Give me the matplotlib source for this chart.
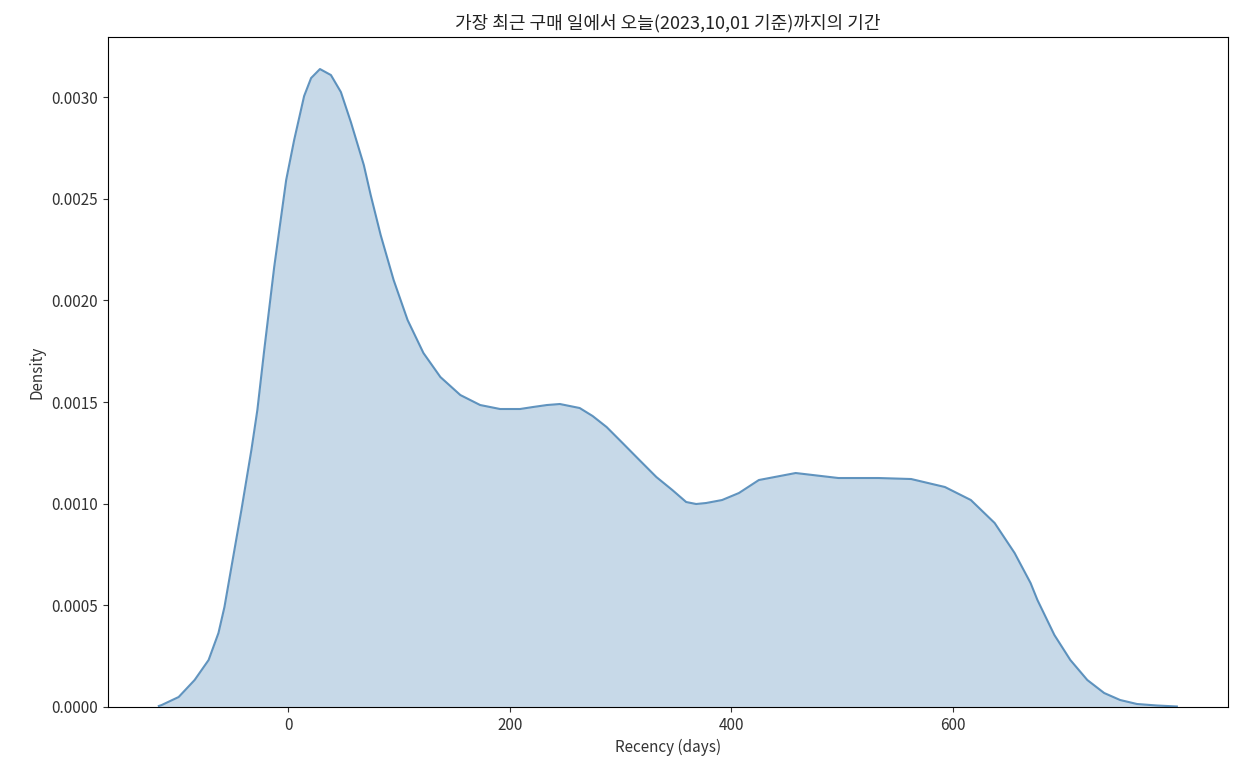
import matplotlib
matplotlib.use("Agg")
import matplotlib.pyplot as plt

plt.rcParams['font.family'] = ['Noto Sans CJK KR', 'DejaVu Sans']

# KDE curve (Recency in days, density)
recency_days = [-116.7, -114.1, -98.8, -84.4, -71.8, -62.9, -57.5, -51.2, -42.2, -33.2,
                -27.8, -21.6, -12.6, -1.8, 5.4, 14.4, 20.7, 28.7, 38.6, 47.6,
                56.6, 68.3, 74.5, 83.5, 95.2, 107.8, 122.1, 137.4, 155.4, 173.3,
                191.3, 209.2, 220.9, 233.5, 245.2, 263.1, 274.8, 287.4, 301.8, 317.0,
                332.3, 346.7, 359.2, 368.2, 377.2, 391.6, 406.8, 424.8, 458.0, 496.6,
                532.6, 562.2, 592.7, 616.1, 637.6, 655.6, 670.0, 676.2, 691.5, 705.9,
                721.2, 736.4, 750.8, 766.0, 784.0, 802.0]
density = [0.0000049, 0.0000098, 0.0000492, 0.0001328, 0.0002311, 0.0003639, 0.0004918,
           0.0006885, 0.0009688, 0.0012639, 0.0014606, 0.0017557, 0.0021639, 0.0025918,
           0.0027885, 0.0030049, 0.0030934, 0.0031377, 0.0031082, 0.0030246, 0.0028770,
           0.0026656, 0.0025180, 0.0023213, 0.0021000, 0.0019033, 0.0017410, 0.0016229,
           0.0015344, 0.0014852, 0.0014656, 0.0014656, 0.0014754, 0.0014852, 0.0014902,
           0.0014705, 0.0014311, 0.0013770, 0.0012984, 0.0012147, 0.0011311, 0.0010672,
           0.0010082, 0.0009984, 0.0010033, 0.0010180, 0.0010525, 0.0011164, 0.0011508,
           0.0011262, 0.0011262, 0.0011213, 0.0010820, 0.0010180, 0.0009049, 0.0007574,
           0.0006098, 0.0005262, 0.0003541, 0.0002311, 0.0001328, 0.0000689, 0.0000344,
           0.0000148, 0.0000074, 0.0000025]

title = "가장 최근 구매 일에서 오늘(2023,10,01 기준)까지의 기간"
xlabel = "Recency (days)"
ylabel = "Density"

fig = plt.figure(figsize=(12.44, 7.72), dpi=100)
ax = fig.add_axes([0.0868, 0.0842, 0.9002, 0.8678])

ax.fill_between(recency_days, density, 0, color='steelblue', alpha=0.3, linewidth=0)
ax.plot(recency_days, density, color='steelblue', linewidth=1.5, alpha=0.85,
        solid_joinstyle='round')

ax.set_xlim(-162.6, 848)
ax.set_ylim(0, 0.003295)
ax.set_xticks([0, 200, 400, 600])
ax.set_yticks([0, 0.0005, 0.0010, 0.0015, 0.0020, 0.0025, 0.0030])
ax.set_yticklabels(["0.0000", "0.0005", "0.0010", "0.0015", "0.0020", "0.0025", "0.0030"])
ax.tick_params(labelsize=11, colors='#333333', labelcolor='#333333')
ax.set_xlabel(xlabel, fontsize=11, color='#333333')
ax.set_ylabel(ylabel, fontsize=11, color='#333333')
ax.set_title(title, fontsize=13, color='#222222')

fig.savefig("out.png", dpi=100)
